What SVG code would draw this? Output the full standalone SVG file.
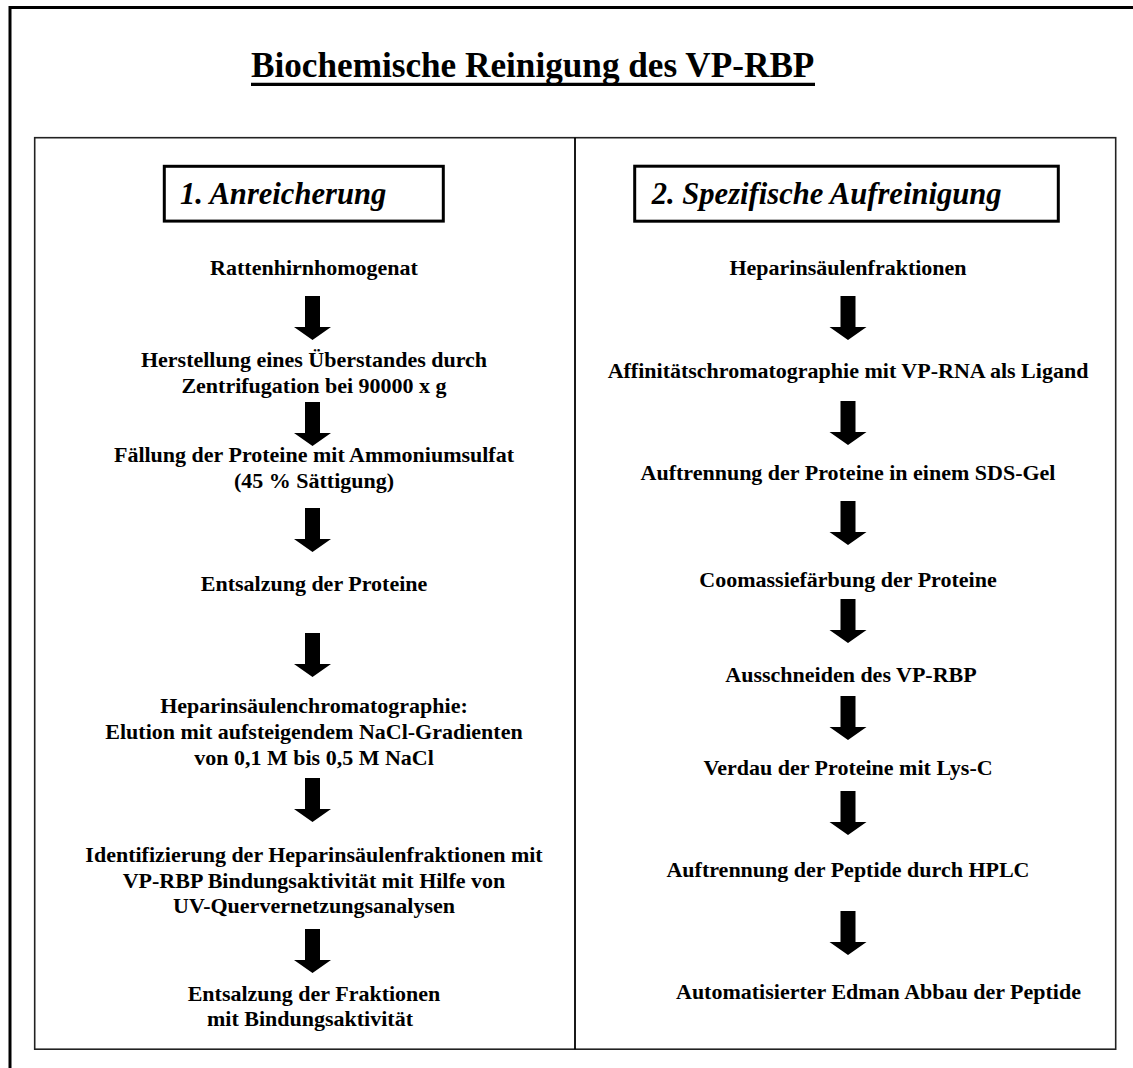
<svg xmlns="http://www.w3.org/2000/svg" xmlns:xlink="http://www.w3.org/1999/xlink" width="1133" height="1068" viewBox="0 0 1133 1068">
<style>
.t{font-family:"Liberation Serif","Times New Roman",serif;font-weight:bold;font-size:22px;fill:#000;text-anchor:middle}
.h{font-family:"Liberation Serif","Times New Roman",serif;font-weight:bold;font-style:italic;font-size:30.6px;fill:#000}
.title{font-family:"Liberation Serif","Times New Roman",serif;font-weight:bold;font-size:35.2px;fill:#000}
.hb{fill:#fff;stroke:#000;stroke-width:3}
</style>
<defs>
<path id="arr" d="M-7.5,-44 H7.5 V-13 H18.5 L0,0 L-18.5,-13 H-7.5 Z" fill="#000"/>
</defs>
<rect width="1133" height="1068" fill="#fff"/>
<g id="frame">
<path d="M10,1068 V7.5 H1133" fill="none" stroke="#000" stroke-width="3"/>
<rect x="34.7" y="137.7" width="1081" height="911.5" fill="none" stroke="#222" stroke-width="1.6"/>
<line x1="575" y1="137.7" x2="575" y2="1049.2" stroke="#000" stroke-width="1.8"/>
</g>
<g id="title">
<text class="title" x="251" y="77.3">Biochemische Reinigung des VP-RBP</text>
<line x1="251" y1="84.3" x2="815" y2="84.3" stroke="#000" stroke-width="3.3"/>
</g>
<g id="header1">
<rect class="hb" x="164.3" y="166.3" width="279" height="54.8"/>
<text class="h" x="180" y="204.3">1. Anreicherung</text>
</g>
<g id="header2">
<rect class="hb" x="634.7" y="166.2" width="423.6" height="55"/>
<text class="h" x="651.7" y="204.3">2. Spezifische Aufreinigung</text>
</g>
<g id="left-steps">
<g id="l1"><text class="t" x="314" y="275">Rattenhirnhomogenat</text></g>
<g id="l2"><text class="t" x="314" y="366.7">Herstellung eines Überstandes durch</text><text class="t" x="314" y="393.3">Zentrifugation bei 90000 x g</text></g>
<g id="l3"><text class="t" x="314" y="461.7">Fällung der Proteine mit Ammoniumsulfat</text><text class="t" x="314" y="487.8">(45 % Sättigung)</text></g>
<g id="l4"><text class="t" x="314" y="590.7">Entsalzung der Proteine</text></g>
<g id="l5"><text class="t" x="314" y="713.3">Heparinsäulenchromatographie:</text><text class="t" x="314" y="739">Elution mit aufsteigendem NaCl-Gradienten</text><text class="t" x="314" y="765">von 0,1 M bis 0,5 M NaCl</text></g>
<g id="l6"><text class="t" x="314" y="862">Identifizierung der Heparinsäulenfraktionen mit</text><text class="t" x="314" y="887.5">VP-RBP Bindungsaktivität mit Hilfe von</text><text class="t" x="314" y="912.5">UV-Quervernetzungsanalysen</text></g>
<g id="l7"><text class="t" x="314" y="1001">Entsalzung der Fraktionen</text><text class="t" x="310" y="1026">mit Bindungsaktivität</text></g>
</g>
<g id="right-steps">
<g id="r1"><text class="t" x="848" y="275">Heparinsäulenfraktionen</text></g>
<g id="r2"><text class="t" x="848" y="378">Affinitätschromatographie mit VP-RNA als Ligand</text></g>
<g id="r3"><text class="t" x="848" y="480">Auftrennung der Proteine in einem SDS-Gel</text></g>
<g id="r4"><text class="t" x="848" y="587">Coomassiefärbung der Proteine</text></g>
<g id="r5"><text class="t" x="851" y="682">Ausschneiden  des VP-RBP</text></g>
<g id="r6"><text class="t" x="848" y="775">Verdau der Proteine mit Lys-C</text></g>
<g id="r7"><text class="t" x="848" y="877">Auftrennung der Peptide durch HPLC</text></g>
<g id="r8"><text class="t" x="676" y="999.3" style="text-anchor:start">Automatisierter Edman Abbau der Peptide</text></g>
</g>
<g id="connectors">
<use xlink:href="#arr" x="312.5" y="340"/>
<use xlink:href="#arr" x="312.5" y="446"/>
<use xlink:href="#arr" x="312.5" y="552"/>
<use xlink:href="#arr" x="312.5" y="677"/>
<use xlink:href="#arr" x="312.5" y="822"/>
<use xlink:href="#arr" x="312.5" y="973"/>
<use xlink:href="#arr" x="848" y="340"/>
<use xlink:href="#arr" x="848" y="445"/>
<use xlink:href="#arr" x="848" y="545"/>
<use xlink:href="#arr" x="848" y="643"/>
<use xlink:href="#arr" x="848" y="740"/>
<use xlink:href="#arr" x="848" y="835"/>
<use xlink:href="#arr" x="848" y="955"/>
</g>
</svg>
